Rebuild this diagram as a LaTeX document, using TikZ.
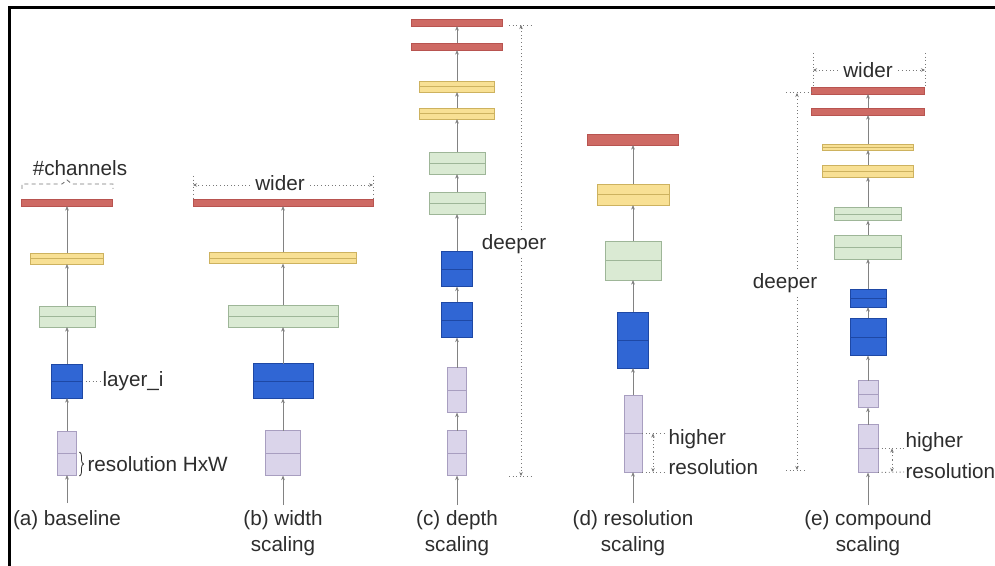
\documentclass[tikz,border=0pt]{standalone}
\usepackage{fontspec}
\setmainfont{Liberation Sans}
\usetikzlibrary{arrows.meta,decorations.pathreplacing}

\definecolor{redF}{RGB}{206,106,100}
\definecolor{redD}{RGB}{184,84,80}
\definecolor{yelF}{RGB}{248,224,148}
\definecolor{yelD}{RGB}{205,178,95}
\definecolor{grnF}{RGB}{218,234,211}
\definecolor{grnD}{RGB}{158,182,152}
\definecolor{bluF}{RGB}{48,102,212}
\definecolor{bluD}{RGB}{30,72,165}
\definecolor{purF}{RGB}{218,212,234}
\definecolor{purD}{RGB}{168,158,192}
\definecolor{flowC}{RGB}{130,130,130}
\definecolor{dimC}{RGB}{120,120,120}
\definecolor{txtC}{RGB}{45,45,45}

\tikzset{
  layer/.style={draw, line width=0.6pt, inner sep=0pt, outer sep=0pt},
  midline/.style={path picture={\draw[#1, line width=0.6pt]
      (path picture bounding box.west) -- (path picture bounding box.east);}},
  redL/.style={layer, fill=redF, draw=redD},
  yelL/.style={layer, fill=yelF, draw=yelD, midline=yelD},
  grnL/.style={layer, fill=grnF, draw=grnD, midline=grnD},
  bluL/.style={layer, fill=bluF, draw=bluD, midline=bluD},
  purL/.style={layer, fill=purF, draw=purD, midline=purD},
  flow/.style={draw=flowC, line width=0.7pt, -{Stealth[length=3.5pt,width=2.8pt]}},
  dim/.style={draw=dimC, dotted, line width=0.7pt},
  dimtip/.style={dim, -{Stealth[length=3pt,width=2.6pt]}},
  lbl/.style={font=\fontsize{15.5}{19.5}\selectfont, text=txtC, inner sep=1pt},
  capt/.style={lbl, align=center, anchor=north, inner sep=0pt},
}

% one layer block: name, style, centre x, centre y, width, height (pixels)
\newcommand\lyr[6]{\node[#2, minimum width=#5*0.75pt, minimum height=#6*0.75pt] (#1) at (#3,#4) {};}

\begin{document}
\begin{tikzpicture}[x=0.75pt,y=-0.75pt]
\useasboundingbox (0,0) rectangle (995,566);
\fill[white] (0,0) rectangle (995,566);

% frame
\draw[line width=2.2pt] (9.5,566) -- (9.5,7.5) -- (995,7.5);

% ---------------- (a) baseline
\lyr{a1}{purL}{67}{453}{19}{44}
\lyr{a2}{bluL}{67}{381}{31}{34}
\lyr{a3}{grnL}{67}{316.5}{56}{21}
\lyr{a4}{yelL}{67}{258.5}{73}{11}
\lyr{a5}{redL}{67}{202.5}{91}{7}
\coordinate (a0) at (67,503);
\draw[flow] (a0) -- (a1.south);
\foreach \i [evaluate=\i as \j using int(\i+1)] in {1,...,4}
  \draw[flow] (a\i.north) -- (a\j.south);

\node[lbl] (chan) at (80,168) {\#channels};
% dashed bracket spanning the channel width
\draw[dim, dashed, dash pattern=on 3pt off 2.5pt]
  (22,189) -- (22,184) -- (62,184) -- (67,180) -- (72,184) -- (113,184) -- (113,189);
\node[lbl, anchor=west] (layi) at (101,381) {layer\_i};
\draw[dim] (a2.east) ++(3,0) -- (layi.west);
\draw[draw=txtC, line width=0.6pt, decorate, decoration={brace, amplitude=3pt}]
  (79.5,452) -- (79.5,476);
\node[lbl, anchor=west] (resHW) at (86,464) {resolution HxW};

\node[capt] (capa) at (67,510) {(a) baseline};

% ---------------- (b) width scaling
\lyr{b1}{purL}{283}{453}{35}{45}
\lyr{b2}{bluL}{283}{381}{60}{35}
\lyr{b3}{grnL}{283}{316}{110}{22}
\lyr{b4}{yelL}{283}{258}{147}{11}
\lyr{b5}{redL}{283}{202.5}{180}{7}
\coordinate (b0) at (283,505);
\draw[flow] (b0) -- (b1.south);
\foreach \i [evaluate=\i as \j using int(\i+1)] in {1,...,4}
  \draw[flow] (b\i.north) -- (b\j.south);

\node[lbl, fill=white, inner xsep=4pt] (widerb) at (280,183) {wider};
\coordinate (bl) at (193,185);
\coordinate (br) at (373,185);
\draw[dim] (193,176) -- (193,198);
\draw[dim] (373,176) -- (373,198);
\draw[dimtip] (widerb.west |- bl) -- (bl);
\draw[dimtip] (widerb.east |- br) -- (br);

\node[capt] (capb) at (283,510) {(b) width\\scaling};

% ---------------- (c) depth scaling
\lyr{c1}{purL}{457}{453}{19}{45}
\lyr{c2}{purL}{457}{390}{19}{45}
\lyr{c3}{bluL}{457}{320}{31}{35}
\lyr{c4}{bluL}{457}{269}{31}{35}
\lyr{c5}{grnL}{457}{203}{56}{22}
\lyr{c6}{grnL}{457}{163}{56}{22}
\lyr{c7}{yelL}{457}{113.5}{75}{11}
\lyr{c8}{yelL}{457}{86.5}{75}{11}
\lyr{c9}{redL}{457}{46.5}{91}{7}
\lyr{c10}{redL}{457}{22.5}{91}{7}
\coordinate (c0) at (457,505);
\draw[flow] (c0) -- (c1.south);
\foreach \i [evaluate=\i as \j using int(\i+1)] in {1,...,9}
  \draw[flow] (c\i.north) -- (c\j.south);

\node[lbl, fill=white, inner ysep=3pt] (deeperc) at (514,244) {deeper};
\coordinate (ct) at (521,25);
\coordinate (cb) at (521,476);
\draw[dim] (509,25) -- (534,25);
\draw[dim] (509,476) -- (534,476);
\draw[dimtip] (ct |- deeperc.north) -- (ct);
\draw[dimtip] (cb |- deeperc.south) -- (cb);

\node[capt] (capc) at (457,510) {(c) depth\\scaling};

% ---------------- (d) resolution scaling
\lyr{d1}{purL}{633}{433.5}{18}{77}
\lyr{d2}{bluL}{633}{340}{31}{56}
\lyr{d3}{grnL}{633}{260.5}{56}{39}
\lyr{d4}{yelL}{633}{194.5}{72}{21}
\lyr{d5}{redL}{633}{139.5}{91}{11}
\coordinate (d0) at (633,503);
\draw[flow] (d0) -- (d1.south);
\foreach \i [evaluate=\i as \j using int(\i+1)] in {1,...,4}
  \draw[flow] (d\i.north) -- (d\j.south);

\node[lbl, anchor=west] (highd) at (667,439) {higher};
\node[lbl, anchor=west] (resd) at (667,467) {resolution};
\coordinate (dt) at (653,433.5);
\coordinate (db) at (653,472);
\draw[dim] (d1.east |- dt) -- (highd.west |- dt);
\draw[dim] (d1.south east) -- (resd.west |- db);
\draw[dimtip] (653,452) -- (dt);
\draw[dimtip] (653,452) -- (db);

\node[capt] (capd) at (633,510) {(d) resolution\\scaling};

% ---------------- (e) compound scaling
\lyr{e1}{purL}{868}{448.5}{20}{48}
\lyr{e2}{purL}{868}{394}{20}{27}
\lyr{e3}{bluL}{868}{337}{36}{37}
\lyr{e4}{bluL}{868}{298}{36}{18}
\lyr{e5}{grnL}{868}{247}{67}{24}
\lyr{e6}{grnL}{868}{214}{67}{13}
\lyr{e7}{yelL}{868}{171}{91}{12}
\lyr{e8}{yelL}{868}{147}{91}{6}
\lyr{e9}{redL}{868}{111.5}{113}{7}
\lyr{e10}{redL}{868}{90.5}{113}{7}
\coordinate (e0) at (868,505);
\draw[flow] (e0) -- (e1.south);
\foreach \i [evaluate=\i as \j using int(\i+1)] in {1,...,9}
  \draw[flow] (e\i.north) -- (e\j.south);

% wider
\node[lbl, fill=white, inner xsep=4pt] (widere) at (868,70) {wider};
\coordinate (el) at (813,70);
\coordinate (er) at (925,70);
\draw[dim] (813,53) -- (813,87);
\draw[dim] (925,53) -- (925,87);
\draw[dimtip] (widere.west |- el) -- (el);
\draw[dimtip] (widere.east |- er) -- (er);

% deeper
\node[lbl, fill=white, inner ysep=3pt] (deepere) at (785,283) {deeper};
\coordinate (et) at (797,93);
\coordinate (eb) at (797,470);
\draw[dim] (786,92) -- (812,92);
\draw[dim] (786,470) -- (806,470);
\draw[dimtip] (et |- deepere.north) -- (et);
\draw[dimtip] (eb |- deepere.south) -- (eb);

% higher resolution
\node[lbl, anchor=west] (highe) at (904,442) {higher};
\node[lbl, anchor=west] (rese) at (904,471) {resolution};
\coordinate (eht) at (892,448.5);
\coordinate (ehb) at (892,472);
\draw[dim] (e1.east) -- (highe.west |- eht);
\draw[dim] (e1.south east) -- (rese.west |- ehb);
\draw[dimtip] (892,460) -- (eht);
\draw[dimtip] (892,460) -- (ehb);

\node[capt] (cape) at (868,510) {(e) compound\\scaling};
\end{tikzpicture}
\end{document}
